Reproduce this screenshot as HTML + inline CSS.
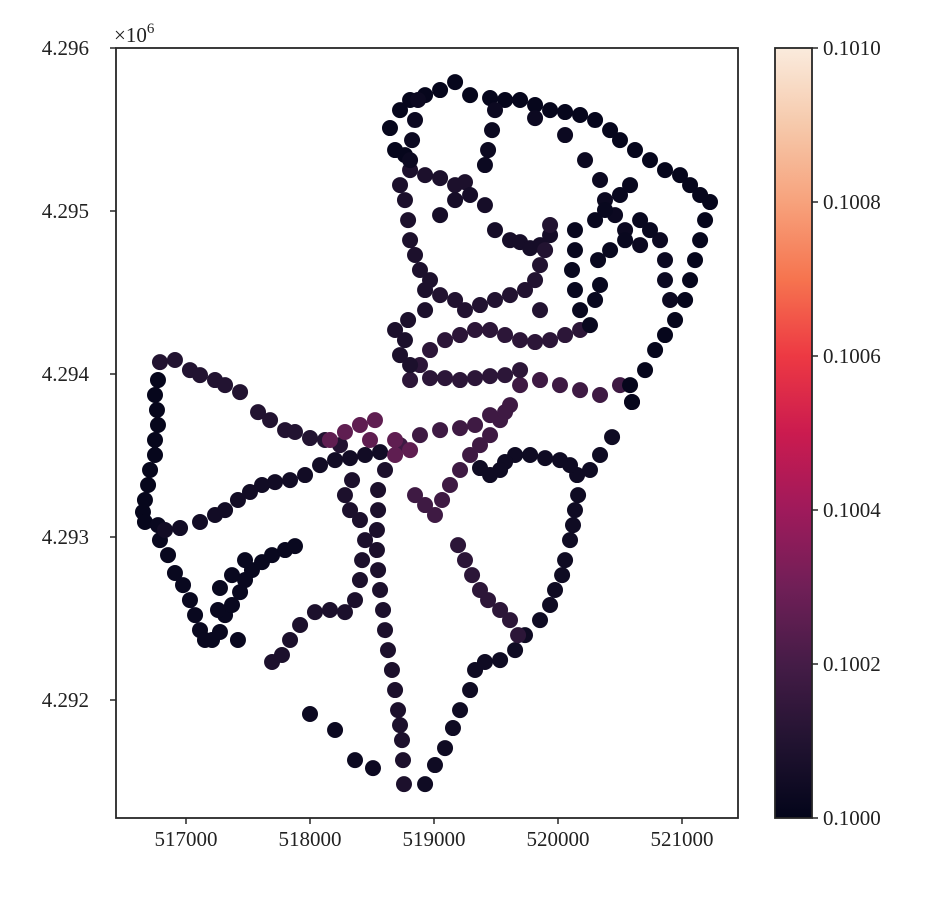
<!DOCTYPE html>
<html><head><meta charset="utf-8"><style>
html,body{margin:0;padding:0;background:#fff;}
svg text{font-family:"Liberation Serif",serif;fill:#222;}
</style></head><body>
<svg id="chart" width="943" height="894" xmlns="http://www.w3.org/2000/svg">
<defs><linearGradient id="cbg" x1="0" y1="1" x2="0" y2="0">
<stop offset="0" stop-color="#03051a"/><stop offset="0.1" stop-color="#221331"/><stop offset="0.2" stop-color="#451c47"/><stop offset="0.3" stop-color="#701f57"/><stop offset="0.4" stop-color="#9f1a5b"/><stop offset="0.5" stop-color="#cb1b4f"/><stop offset="0.6" stop-color="#ed3943"/><stop offset="0.7" stop-color="#f6744f"/><stop offset="0.8" stop-color="#f7a27c"/><stop offset="0.9" stop-color="#f6c9ab"/><stop offset="1" stop-color="#faebdd"/>
</linearGradient></defs>
<g id="points"></g>
<rect x="116" y="48" width="622" height="770" fill="none" stroke="#262626" stroke-width="1.8"/>
<g id="xaxis"></g>
<g id="yaxis"></g>
<text x="114" y="42" font-size="21">×10<tspan dy="-9" font-size="15">6</tspan></text>
<rect x="775" y="48" width="37" height="770" fill="url(#cbg)" stroke="#262626" stroke-width="1.8"/>
<g id="cbaxis"></g>
</svg>
<script>
const xTicks=[517000,518000,519000,520000,521000];
const yTicks=[4292000,4293000,4294000,4295000,4296000];
const yTickLabels=["4.292","4.293","4.294","4.295","4.296"];
const cbTicks=[0.1000,0.1002,0.1004,0.1006,0.1008,0.1010];
const cbTickLabels=["0.1000","0.1002","0.1004","0.1006","0.1008","0.1010"];
const trackValue=[0.10010,0.10001,0.10002,0.10005,0.10002,0.10003,0.10008,0.10008,0.10004,0.10004,0.10013,0.10018,0.10018,0.10026,0.10013,0.10013,0.10008,0.10006,0.10010,0.10001,0.10003,0.10002];
const trackE=[
[516790,516911,517032,517113,517234,517315,517436,517581,517678,517799,517879,518000,518121,518242],
[516774,516750,516766,516774,516750,516750,516710,516694,516669,516653,516669],
[516774,516790,516855,516911,516976,517032,517073,517113,517153,517210,517274,517315,517371,517436,517476,517532,517613,517694,517799,517879],
[516831,516952,517113,517234,517315,517419,517516,517613,517718,517839,517960,518081,518202,518323,518444,518565],
[517274,517371,517476,517258,517419],
[518000,518202,518363,518508],
[518605,518549,518549,518540,518540,518549,518565,518589,518605,518629,518661,518686,518710,518726,518742,518750,518758],
[518339,518282,518323,518403,518444,518420,518403,518363,518282,518161,518040,517920,517839,517774,517694],
[518928,519008,519089,519153,519210,519291,519331,519411,519533,519654,519734,519855,519936,519976,520033,520057,520097,520121,520137,520162],
[520154,520097,520016,519896,519775,519654,519573,519533,519452,519371,520258,520339,520436],
[519194,519250,519307,519371,519436,519533,519613,519678],
[518847,518928,519008,519065,519129,519210,519291,519371,519452,519533,519613],
[518726,518887,519049,519210,519331,519452,519573,519694,519855,520016,520178,520339,520500,520597],
[518161,518282,518403,518524,518686,518807,518686,518484],
[518807,518887,518968,519089,519210,519331,519452,519573,519694,519815,519936,520057,520178],
[518968,519089,519210,519331,519452,519573,519694],
[518928,518928,518887,518847,518807,518791,518766,518726,518807,518928,519049,519170,519250,518791,518766,518726,518807,518686,518968],
[519049,519170,519291,519411,519492,519613,519694,519775,519855,519936],
[519049,519170,519250,519371,519492,519613,519734,519815,519855,519896,519936,519855],
[518645,518686,518766,518726,518807,518928,519049,519170,519291,519452,519573,519694,519815,519936,520057,520178,520299,520420,520500,520621,520742,520863,520984,521065,521146,521226,521186,521146,521105,521065,521025,520944,520863,520783,520702,520581,520597],
[518871,518847,518823,518807,519492,519468,519436,519411,519815,520057,520218,520339,520379,520460,520541,520662,520823,520863,520863,520904],
[520137,520137,520113,520137,520178,520258,520299,520339,520323,520420,520541,520662,520742,520299,520379,520500,520581]
];
const trackN=[
[4294073,4294086,4294024,4293993,4293963,4293932,4293889,4293766,4293717,4293656,4293644,4293607,4293595,4293564],
[4293963,4293871,4293779,4293687,4293595,4293503,4293411,4293319,4293227,4293153,4293092],
[4293073,4292981,4292889,4292779,4292705,4292613,4292521,4292429,4292368,4292368,4292417,4292521,4292583,4292662,4292736,4292797,4292846,4292889,4292920,4292944],
[4293043,4293055,4293092,4293135,4293165,4293227,4293276,4293319,4293337,4293349,4293380,4293441,4293472,4293484,4293503,4293521],
[4292687,4292766,4292858,4292552,4292368],
[4291914,4291816,4291631,4291582],
[4293411,4293288,4293165,4293043,4292920,4292797,4292675,4292552,4292429,4292306,4292184,4292061,4291938,4291846,4291754,4291631,4291484],
[4293349,4293257,4293165,4293104,4292981,4292858,4292736,4292613,4292539,4292552,4292539,4292460,4292368,4292276,4292233],
[4291484,4291601,4291705,4291828,4291938,4292061,4292184,4292233,4292245,4292306,4292398,4292490,4292583,4292675,4292766,4292858,4292981,4293073,4293165,4293257],
[4293380,4293441,4293472,4293484,4293503,4293503,4293460,4293411,4293380,4293423,4293411,4293503,4293613],
[4292950,4292858,4292766,4292675,4292613,4292552,4292490,4292398],
[4293257,4293196,4293135,4293227,4293319,4293411,4293503,4293564,4293625,4293717,4293809],
[4293564,4293625,4293656,4293668,4293687,4293748,4293766,4293932,4293963,4293932,4293901,4293871,4293932,4293828],
[4293595,4293644,4293687,4293717,4293595,4293533,4293503,4293595],
[4293963,4294055,4294147,4294208,4294239,4294270,4294270,4294239,4294208,4294196,4294208,4294239,4294270],
[4293975,4293975,4293963,4293975,4293987,4293993,4294024],
[4294392,4294515,4294638,4294730,4294821,4294944,4295067,4295159,4295251,4295220,4295202,4295159,4295177,4294331,4294208,4294116,4294055,4294270,4294576],
[4294975,4295067,4295098,4295036,4294883,4294821,4294809,4294772,4294791,4294852],
[4294484,4294454,4294392,4294423,4294454,4294484,4294515,4294576,4294668,4294760,4294914,4294392],
[4295509,4295374,4295343,4295619,4295681,4295711,4295742,4295791,4295711,4295693,4295681,4295681,4295650,4295619,4295607,4295589,4295558,4295496,4295435,4295374,4295312,4295251,4295220,4295159,4295098,4295055,4294944,4294821,4294699,4294576,4294454,4294331,4294239,4294147,4294024,4293932,4293828],
[4295681,4295558,4295435,4295312,4295619,4295496,4295374,4295282,4295570,4295466,4295312,4295190,4295067,4294975,4294883,4294791,4294821,4294699,4294576,4294454],
[4294883,4294760,4294638,4294515,4294392,4294300,4294454,4294546,4294699,4294760,4294821,4294944,4294883,4294944,4295006,4295098,4295159]
];
const NS="http://www.w3.org/2000/svg";
function xs(v){return 186+(v-517000)*0.124;}
function ys(v){return 48+(4296000-v)*0.163;}
function cs(v){return 818-(v-0.1000)/0.0010*770;}
const stops=[[3,5,26],[34,19,49],[69,28,71],[112,31,87],[159,26,91],[203,27,79],[237,57,67],[246,116,79],[247,162,124],[246,201,171],[250,235,221]];
function cmap(v){let t=Math.max(0,Math.min(1,(v-0.1000)/0.0010))*10;let i=Math.min(9,Math.floor(t)),f=t-i;const a=stops[i],b=stops[i+1];return `rgb(${[0,1,2].map(k=>Math.round(a[k]+(b[k]-a[k])*f)).join(',')})`;}
function mk(tag,attrs,parent){const e=document.createElementNS(NS,tag);for(const k in attrs)e.setAttribute(k,attrs[k]);parent.appendChild(e);return e;}
const pg=document.getElementById('points');
trackE.forEach((es,ti)=>{es.forEach((e,i)=>{
 const c=mk('circle',{cx:xs(e),cy:ys(trackN[ti][i]),r:8,fill:cmap(trackValue[ti])},pg);
 
 
});});
const xa=document.getElementById('xaxis');
xTicks.forEach(v=>{
 const l=mk('line',{x1:xs(v),x2:xs(v),y1:818,y2:824,stroke:'#262626','stroke-width':1.5},xa);
 
 
 const t=mk('text',{x:xs(v),y:846,'font-size':21,'text-anchor':'middle'},xa);t.textContent=String(v);
 
 
});
const ya=document.getElementById('yaxis');
yTicks.forEach((v,i)=>{
 const l=mk('line',{x1:110,x2:116,y1:ys(v),y2:ys(v),stroke:'#262626','stroke-width':1.5},ya);
 
 
 const t=mk('text',{x:89,y:ys(v)+7,'font-size':21,'text-anchor':'end'},ya);t.textContent=yTickLabels[i];
 
 
});
const ca=document.getElementById('cbaxis');
cbTicks.forEach((v,i)=>{
 const l=mk('line',{x1:812,x2:818,y1:cs(v),y2:cs(v),stroke:'#262626','stroke-width':1.5},ca);
 
 
 const t=mk('text',{x:823,y:cs(v)+7,'font-size':21},ca);t.textContent=cbTickLabels[i];
 
 
});
</script>
</body></html>
